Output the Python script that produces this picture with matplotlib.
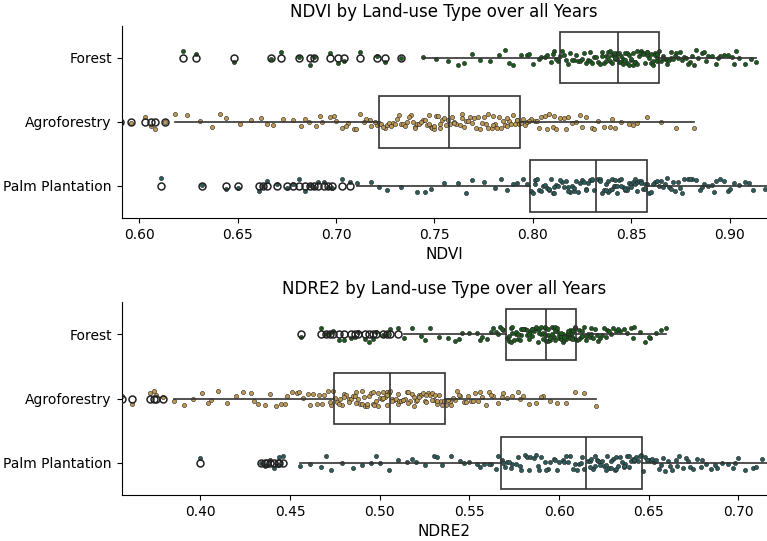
import numpy as np
import matplotlib
matplotlib.use("Agg")
import matplotlib.pyplot as plt

categories = ["Forest", "Agroforestry", "Palm Plantation"]

ndvi_forest = [
    0.622, 0.629, 0.648, 0.667, 0.672, 0.681, 0.689, 0.697, 0.704, 0.712, 0.721, 0.733,
    0.744, 0.751, 0.757, 0.762, 0.769, 0.773, 0.778, 0.783, 0.786, 0.790, 0.794, 0.797,
    0.800, 0.803, 0.806, 0.809, 0.811, 0.813,
    0.814, 0.815, 0.817, 0.818, 0.819, 0.821, 0.822, 0.823, 0.824, 0.826, 0.827, 0.828,
    0.829, 0.830, 0.831, 0.833, 0.834, 0.835, 0.836, 0.837, 0.838, 0.838, 0.839, 0.840,
    0.840, 0.841, 0.842, 0.842, 0.843, 0.843,
    0.844, 0.844, 0.845, 0.846, 0.846, 0.847, 0.848, 0.848, 0.849, 0.850, 0.850, 0.851,
    0.852, 0.852, 0.853, 0.854, 0.855, 0.855, 0.856, 0.857, 0.858, 0.858, 0.859, 0.860,
    0.861, 0.861, 0.862, 0.863, 0.863, 0.864,
    0.865, 0.866, 0.867, 0.868, 0.869, 0.870, 0.871, 0.873, 0.874, 0.875, 0.877, 0.878,
    0.880, 0.881, 0.883, 0.884, 0.886, 0.888, 0.889, 0.891, 0.893, 0.895, 0.897, 0.899,
    0.901, 0.903, 0.905, 0.908, 0.911, 0.9136,
    0.687, 0.701, 0.725, 0.765, 0.788, 0.798, 0.804, 0.807, 0.810, 0.812,
    0.816, 0.820, 0.825, 0.829, 0.832, 0.835, 0.837, 0.839, 0.841, 0.842,
    0.845, 0.847, 0.849, 0.851, 0.853, 0.856, 0.858, 0.860, 0.862, 0.863,
    0.866, 0.868, 0.870, 0.872, 0.876, 0.879, 0.882, 0.887, 0.894, 0.902]

ndvi_agro = [
    0.590, 0.596, 0.603, 0.606, 0.608, 0.613,
    0.618, 0.624, 0.631, 0.637, 0.644, 0.651, 0.657, 0.662, 0.668, 0.673, 0.678, 0.682,
    0.686, 0.690, 0.693, 0.697, 0.700, 0.703, 0.706, 0.709, 0.712, 0.715, 0.718, 0.721,
    0.722, 0.723, 0.725, 0.726, 0.727, 0.729, 0.730, 0.731, 0.733, 0.734, 0.735, 0.736,
    0.738, 0.739, 0.740, 0.741, 0.742, 0.744, 0.745, 0.746, 0.747, 0.748, 0.749, 0.750,
    0.751, 0.752, 0.753, 0.754, 0.755, 0.757,
    0.758, 0.759, 0.760, 0.761, 0.763, 0.764, 0.765, 0.766, 0.767, 0.769, 0.770, 0.771,
    0.772, 0.774, 0.775, 0.776, 0.777, 0.779, 0.780, 0.781, 0.782, 0.783, 0.785, 0.786,
    0.787, 0.788, 0.789, 0.791, 0.792, 0.793,
    0.794, 0.796, 0.797, 0.799, 0.801, 0.803, 0.804, 0.806, 0.808, 0.810, 0.812, 0.814,
    0.816, 0.818, 0.820, 0.822, 0.825, 0.827, 0.830, 0.833, 0.836, 0.839, 0.842, 0.845,
    0.849, 0.853, 0.858, 0.865, 0.873, 0.882,
    0.641, 0.665, 0.684, 0.692, 0.699, 0.705, 0.710, 0.714, 0.717, 0.720,
    0.724, 0.728, 0.732, 0.737, 0.740, 0.743, 0.747, 0.750, 0.753, 0.756,
    0.760, 0.764, 0.768, 0.773, 0.777, 0.780, 0.784, 0.787, 0.790, 0.792,
    0.795, 0.798, 0.802, 0.807, 0.811, 0.817, 0.824, 0.831, 0.840, 0.851]

ndvi_palm = [
    0.611, 0.632, 0.644, 0.650, 0.661, 0.665, 0.670, 0.675, 0.681, 0.684, 0.687, 0.691,
    0.694, 0.698, 0.703, 0.707,
    0.7105, 0.718, 0.726, 0.733, 0.741, 0.748, 0.755, 0.762, 0.769, 0.775, 0.781, 0.787,
    0.792, 0.797,
    0.799, 0.800, 0.801, 0.802, 0.803, 0.805, 0.806, 0.807, 0.808, 0.809, 0.810, 0.811,
    0.812, 0.813, 0.815, 0.816, 0.817, 0.818, 0.819, 0.820, 0.821, 0.822, 0.823, 0.825,
    0.826, 0.827, 0.828, 0.829, 0.830, 0.831,
    0.833, 0.834, 0.835, 0.836, 0.837, 0.838, 0.838, 0.839, 0.840, 0.841, 0.842, 0.843,
    0.843, 0.844, 0.845, 0.846, 0.847, 0.848, 0.848, 0.849, 0.850, 0.851, 0.852, 0.853,
    0.853, 0.854, 0.855, 0.856, 0.857, 0.858,
    0.859, 0.860, 0.862, 0.863, 0.864, 0.866, 0.867, 0.869, 0.870, 0.872, 0.874, 0.875,
    0.877, 0.879, 0.881, 0.883, 0.885, 0.887, 0.889, 0.891, 0.893, 0.895, 0.897, 0.899,
    0.902, 0.905, 0.908, 0.912, 0.918, 0.928,
    0.663, 0.678, 0.689, 0.696, 0.722, 0.745, 0.766, 0.784, 0.790, 0.795,
    0.801, 0.804, 0.808, 0.811, 0.814, 0.818, 0.821, 0.824, 0.827, 0.830,
    0.834, 0.837, 0.840, 0.842, 0.845, 0.847, 0.850, 0.852, 0.855, 0.857,
    0.861, 0.865, 0.868, 0.871, 0.876, 0.880, 0.886, 0.892, 0.900, 0.910]

ndre2_forest = [
    0.456, 0.467, 0.470, 0.474, 0.477, 0.480, 0.484, 0.488, 0.492, 0.494, 0.498, 0.502,
    0.506, 0.510,
    0.5133, 0.518, 0.523, 0.528, 0.533, 0.538, 0.542, 0.546, 0.550, 0.554, 0.557, 0.560,
    0.563, 0.565, 0.567, 0.569,
    0.571, 0.572, 0.573, 0.573, 0.574, 0.575, 0.576, 0.576, 0.577, 0.578, 0.579, 0.579,
    0.580, 0.581, 0.582, 0.582, 0.583, 0.584, 0.585, 0.585, 0.586, 0.587, 0.588, 0.588,
    0.589, 0.590, 0.590, 0.591, 0.592, 0.592,
    0.593, 0.594, 0.594, 0.595, 0.595, 0.596, 0.597, 0.597, 0.598, 0.598, 0.599, 0.600,
    0.600, 0.601, 0.601, 0.602, 0.602, 0.603, 0.604, 0.604, 0.605, 0.605, 0.606, 0.606,
    0.607, 0.607, 0.608, 0.608, 0.609, 0.609,
    0.610, 0.611, 0.612, 0.613, 0.614, 0.615, 0.616, 0.617, 0.618, 0.619, 0.620, 0.622,
    0.623, 0.624, 0.626, 0.627, 0.629, 0.630, 0.632, 0.634, 0.636, 0.638, 0.640, 0.642,
    0.645, 0.648, 0.651, 0.654, 0.657, 0.6595,
    0.472, 0.486, 0.496, 0.504, 0.525, 0.544, 0.556, 0.562, 0.566, 0.568,
    0.572, 0.574, 0.577, 0.580, 0.583, 0.585, 0.587, 0.589, 0.591, 0.592,
    0.594, 0.596, 0.598, 0.599, 0.601, 0.603, 0.605, 0.606, 0.607, 0.609,
    0.611, 0.613, 0.615, 0.618, 0.621, 0.625, 0.628, 0.633, 0.641, 0.650]

ndre2_agro = [
    0.356, 0.362, 0.372, 0.374, 0.379,
    0.3855, 0.391, 0.396, 0.401, 0.406, 0.410, 0.415, 0.420, 0.424, 0.428, 0.432, 0.436,
    0.439, 0.442, 0.445, 0.448, 0.451, 0.454, 0.457, 0.460, 0.463, 0.466, 0.468, 0.471,
    0.473,
    0.475, 0.476, 0.478, 0.479, 0.480, 0.481, 0.483, 0.484, 0.485, 0.486, 0.487, 0.488,
    0.489, 0.490, 0.491, 0.492, 0.493, 0.494, 0.495, 0.496, 0.497, 0.498, 0.499, 0.500,
    0.501, 0.502, 0.503, 0.504, 0.504, 0.505,
    0.506, 0.507, 0.508, 0.509, 0.510, 0.511, 0.512, 0.513, 0.514, 0.515, 0.516, 0.517,
    0.518, 0.519, 0.520, 0.521, 0.522, 0.523, 0.524, 0.525, 0.526, 0.527, 0.528, 0.529,
    0.530, 0.531, 0.532, 0.533, 0.534, 0.536,
    0.537, 0.539, 0.540, 0.542, 0.543, 0.545, 0.547, 0.549, 0.551, 0.553, 0.555, 0.557,
    0.559, 0.561, 0.563, 0.566, 0.568, 0.571, 0.574, 0.577, 0.580, 0.583, 0.587, 0.591,
    0.595, 0.599, 0.604, 0.609, 0.614, 0.6204,
    0.375, 0.404, 0.430, 0.447, 0.455, 0.461, 0.465, 0.469, 0.472, 0.474,
    0.477, 0.480, 0.483, 0.487, 0.490, 0.493, 0.496, 0.499, 0.502, 0.504,
    0.507, 0.510, 0.513, 0.516, 0.519, 0.522, 0.526, 0.529, 0.532, 0.535,
    0.538, 0.541, 0.544, 0.548, 0.552, 0.556, 0.562, 0.569, 0.578, 0.590]

ndre2_palm = [
    0.400, 0.434, 0.437, 0.439, 0.441, 0.444, 0.446,
    0.4558, 0.461, 0.467, 0.473, 0.479, 0.485, 0.490, 0.495, 0.500, 0.505, 0.510, 0.515,
    0.520, 0.525, 0.530, 0.535, 0.540, 0.545, 0.550, 0.554, 0.558, 0.562, 0.566,
    0.568, 0.570, 0.571, 0.573, 0.574, 0.576, 0.578, 0.579, 0.581, 0.582, 0.584, 0.586,
    0.587, 0.589, 0.590, 0.592, 0.594, 0.595, 0.597, 0.598, 0.600, 0.602, 0.603, 0.605,
    0.606, 0.608, 0.610, 0.611, 0.613, 0.614,
    0.616, 0.617, 0.618, 0.619, 0.620, 0.621, 0.622, 0.623, 0.624, 0.625, 0.626, 0.627,
    0.628, 0.629, 0.630, 0.631, 0.632, 0.633, 0.634, 0.635, 0.636, 0.637, 0.638, 0.639,
    0.640, 0.641, 0.642, 0.643, 0.644, 0.646,
    0.647, 0.648, 0.650, 0.651, 0.653, 0.654, 0.656, 0.658, 0.659, 0.661, 0.663, 0.665,
    0.667, 0.669, 0.671, 0.673, 0.675, 0.677, 0.680, 0.682, 0.685, 0.688, 0.691, 0.694,
    0.697, 0.700, 0.704, 0.708, 0.713, 0.722,
    0.436, 0.443, 0.470, 0.498, 0.518, 0.532, 0.547, 0.556, 0.561, 0.565,
    0.569, 0.572, 0.577, 0.583, 0.588, 0.593, 0.599, 0.604, 0.609, 0.612,
    0.617, 0.620, 0.623, 0.626, 0.629, 0.632, 0.636, 0.639, 0.642, 0.645,
    0.649, 0.652, 0.657, 0.662, 0.666, 0.672, 0.679, 0.687, 0.698, 0.710]

colors = ["#1d5a1d", "#c09a52", "#2c5c5c"]

panels = [
    ("NDVI by Land-use Type over all Years", "NDVI",
     [ndvi_forest, ndvi_agro, ndvi_palm], (0.591, 0.919),
     [0.60, 0.65, 0.70, 0.75, 0.80, 0.85, 0.90]),
    ("NDRE2 by Land-use Type over all Years", "NDRE2",
     [ndre2_forest, ndre2_agro, ndre2_palm], (0.356, 0.716),
     [0.40, 0.45, 0.50, 0.55, 0.60, 0.65, 0.70]),
]

fig = plt.figure(figsize=(7.67, 5.41), dpi=100)
ax_top = fig.add_axes([0.1585, 0.597, 0.8415, 0.3555])
ax_bot = fig.add_axes([0.1585, 0.085, 0.8415, 0.3565])

rng = np.random.default_rng(3)
edge = "#333333"
for ax, (title, xlabel, groups, xlim, xticks) in zip([ax_top, ax_bot], panels):
    for i, (vals, col) in enumerate(zip(groups, colors)):
        v = np.asarray(vals)
        jit = rng.uniform(-0.12, 0.12, size=len(v))
        ax.scatter(v, i + jit, s=9, color=col, edgecolor="#222222",
                   linewidth=0.4, zorder=2)
    ax.boxplot(groups, positions=[0, 1, 2], orientation="horizontal",
               widths=0.8, showcaps=False, patch_artist=True,
               boxprops=dict(facecolor="none", edgecolor=edge, linewidth=1.2),
               whiskerprops=dict(color=edge, linewidth=1.2),
               medianprops=dict(color=edge, linewidth=1.2),
               flierprops=dict(marker="o", markerfacecolor="none",
                               markeredgecolor="#222222", markersize=5,
                               markeredgewidth=1.1),
               zorder=3)
    ax.set_xlim(*xlim)
    ax.set_ylim(2.5, -0.5)
    ax.set_yticks([0, 1, 2])
    ax.set_yticklabels(categories, fontsize=10)
    ax.set_xticks(xticks)
    ax.set_xticklabels([f"{t:.2f}" for t in xticks], fontsize=10)
    ax.set_xlabel(xlabel, fontsize=11)
    ax.set_title(title, fontsize=12)
    ax.spines["top"].set_visible(False)
    ax.spines["right"].set_visible(False)

fig.savefig("out.png", dpi=100)
